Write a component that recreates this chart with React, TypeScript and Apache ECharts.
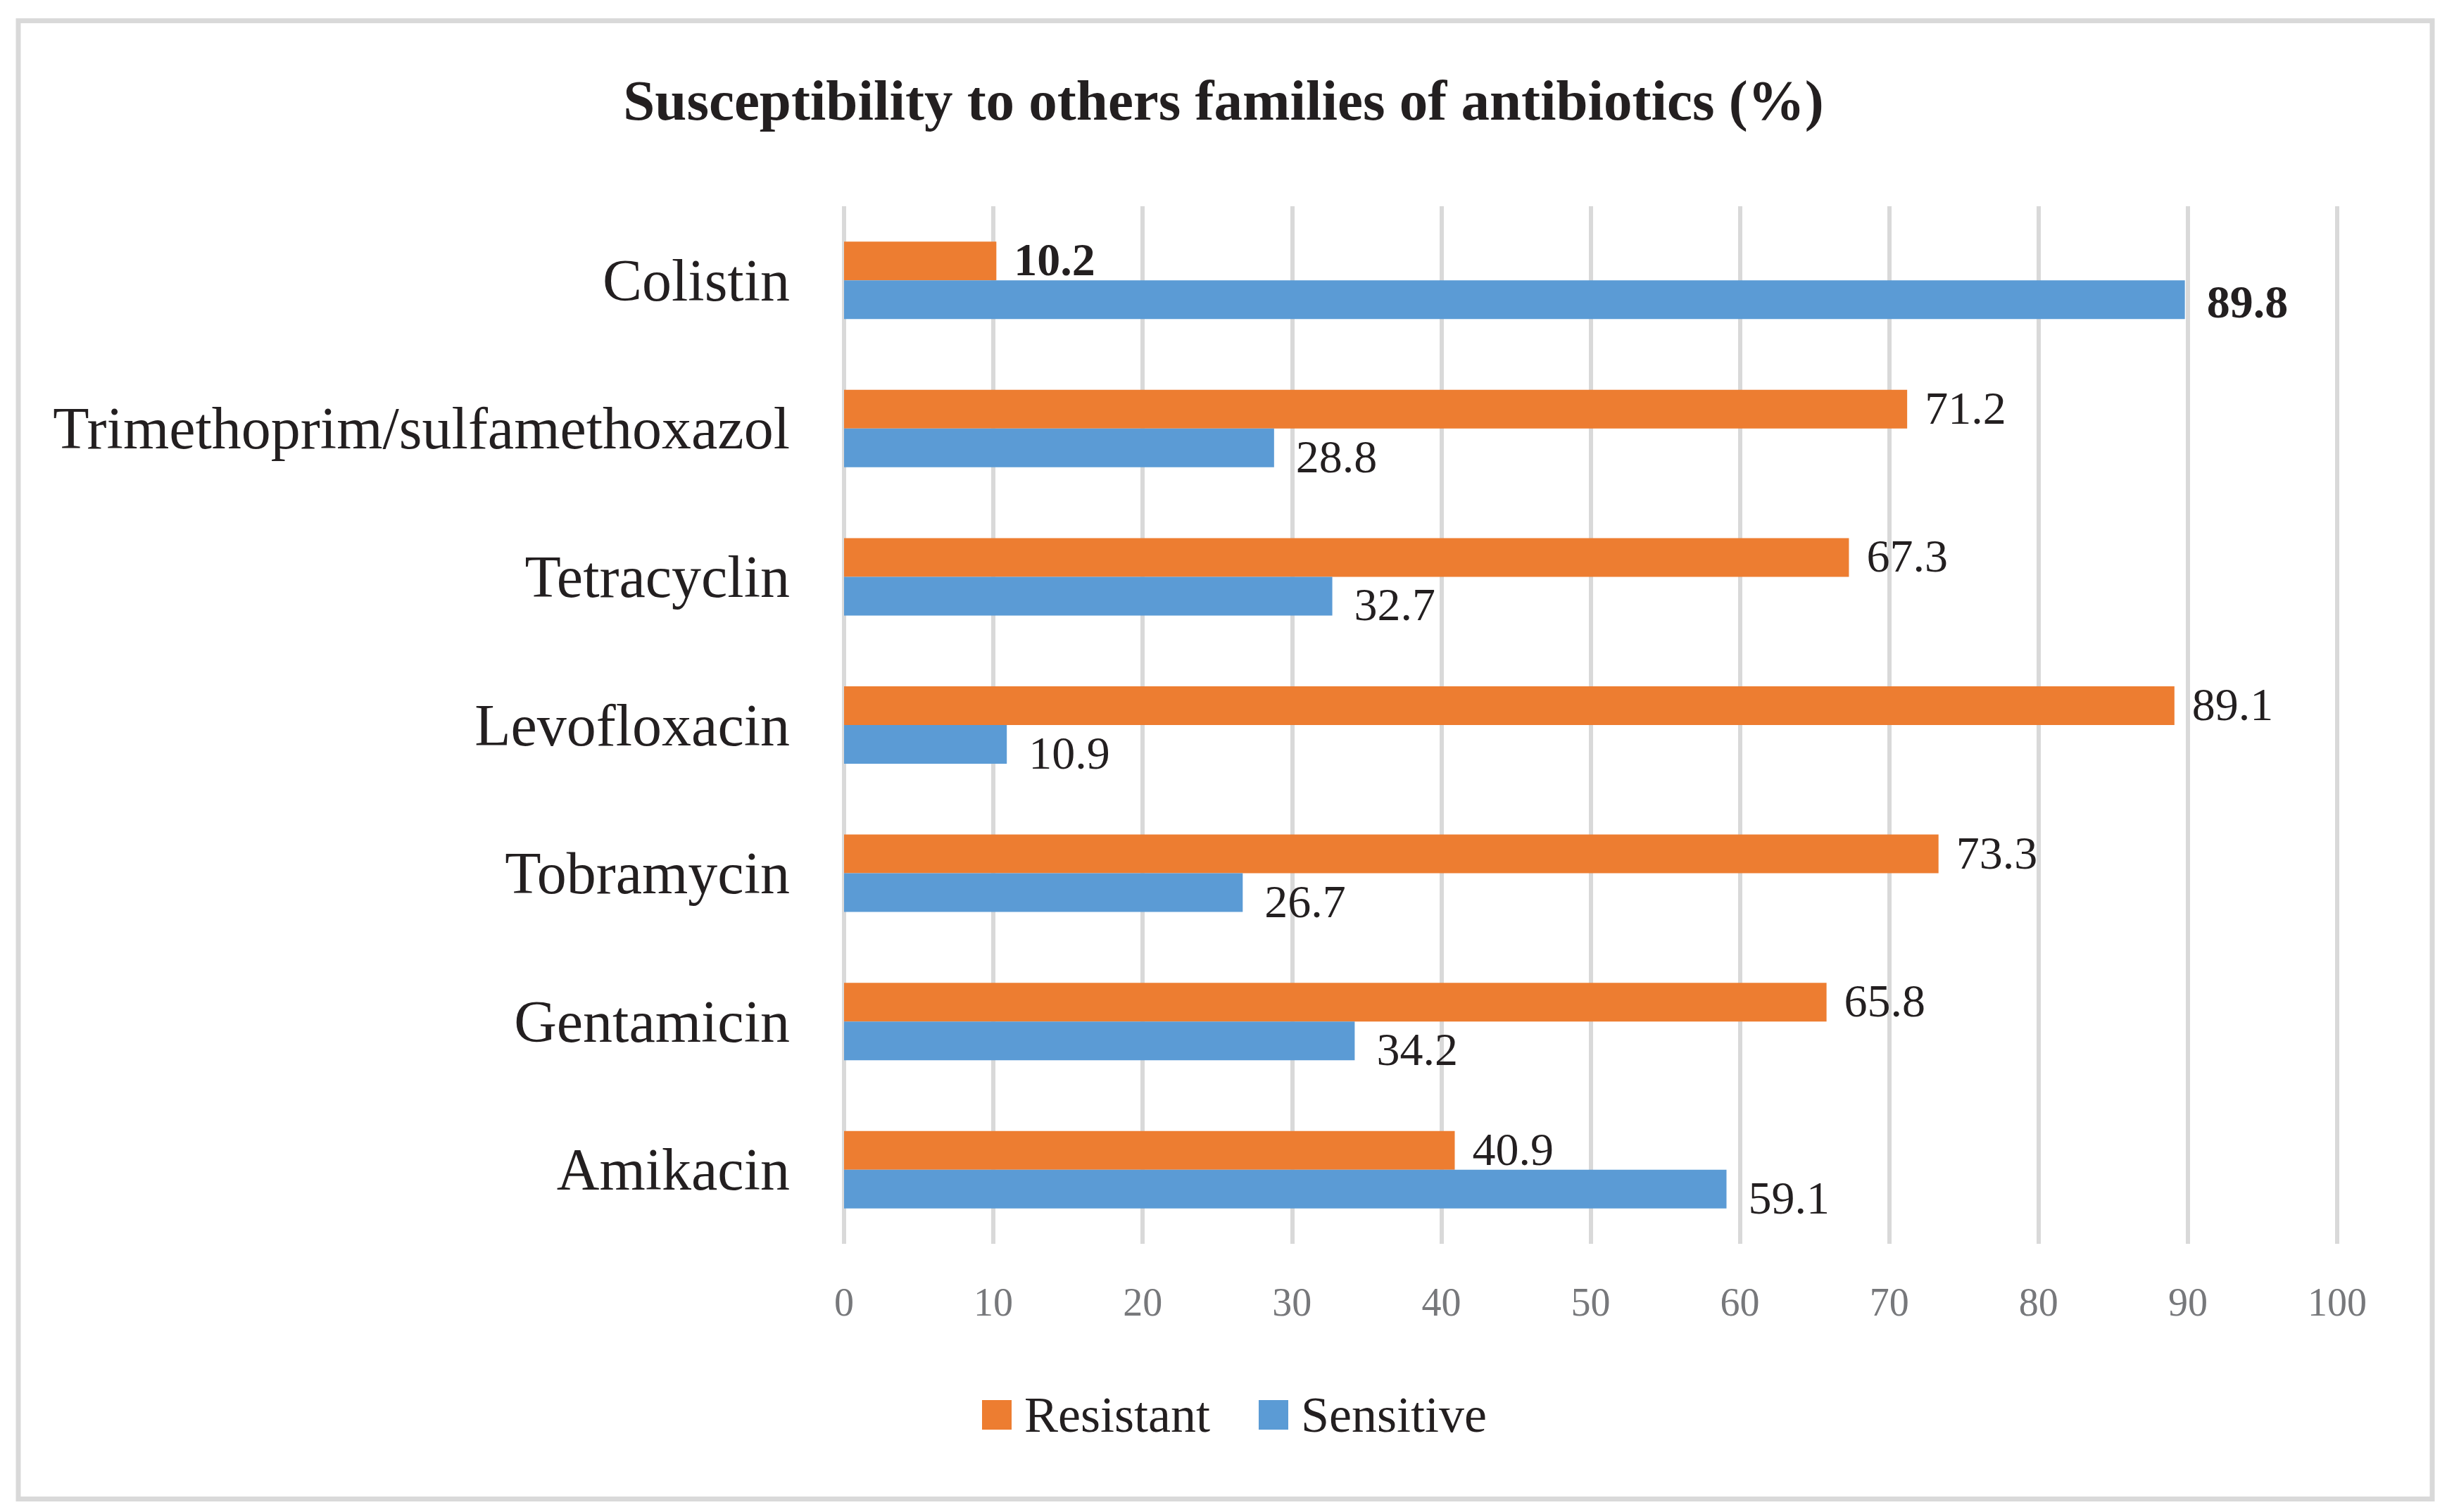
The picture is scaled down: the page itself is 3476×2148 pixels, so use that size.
import React, { useEffect, useRef } from "react";
import * as echarts from "echarts";

const titleText = "Susceptibility to others families of antibiotics (%)";
const categories = [
  "Amikacin",
  "Gentamicin",
  "Tobramycin",
  "Levofloxacin",
  "Tetracyclin",
  "Trimethoprim/sulfamethoxazol",
  "Colistin",
];
const resistant = [40.9, 65.8, 73.3, 89.1, 67.3, 71.2, 10.2];
const sensitive = [59.1, 34.2, 26.7, 10.9, 32.7, 28.8, 89.8];
const boldCategory = "Colistin";
const xMin = 0;
const xMax = 100;
const xInterval = 10;

const FONT = "'Liberation Serif', 'Times New Roman', serif";
const TEXT = "#231f20";

export default function App() {
  const ref = useRef<HTMLDivElement>(null);
  useEffect(() => {
    if (!ref.current) return;
    const chart = echarts.init(ref.current, null, { renderer: "svg" });
    const mk = (vals: number[], isSens: boolean) =>
      vals.map((v, i) => {
        const bold = categories[i] === boldCategory;
        return {
          value: v,
          label: {
            fontWeight: bold ? "bold" : "normal",
            offset: isSens ? (bold ? [6, 3] : [6, 12]) : [0, -2],
          },
        };
      });
    chart.setOption({
      animation: false,
      backgroundColor: "#ffffff",
      title: {
        text: titleText,
        left: "center",
        top: 97,
        textStyle: { fontFamily: FONT, fontWeight: "bold", fontSize: 81, color: TEXT },
      },
      graphic: [
        {
          type: "rect",
          silent: true,
          shape: { x: 26, y: 29.5, width: 3429, height: 2100 },
          style: { fill: "none", stroke: "#d9d9d9", lineWidth: 7 },
        },
      ],
      legend: {
        data: ["Resistant", "Sensitive"],
        left: 1395,
        top: 1974,
        padding: 0,
        icon: "rect",
        itemWidth: 42,
        itemHeight: 42,
        itemGap: 69,
        textStyle: { fontFamily: FONT, fontSize: 72, color: TEXT, lineHeight: 42, padding: [0, 0, 0, 13] },
      },
      grid: { left: 1199, right: 156, top: 293, bottom: 381, containLabel: false },
      xAxis: {
        type: "value",
        min: xMin,
        max: xMax,
        interval: xInterval,
        axisLine: { show: false },
        axisTick: { show: false },
        splitLine: { show: true, lineStyle: { color: "#d9d9d9", width: 6 } },
        axisLabel: { fontFamily: FONT, fontSize: 56, color: "#77787b", margin: 55 },
      },
      yAxis: {
        type: "category",
        data: categories,
        axisLine: { show: false },
        axisTick: { show: false },
        splitLine: { show: false },
        axisLabel: { fontFamily: FONT, fontSize: 84, color: TEXT, margin: 77 },
      },
      series: [
        {
          name: "Resistant",
          type: "bar",
          data: mk(resistant, false),
          barWidth: 55,
          barGap: "0%",
          itemStyle: { color: "#ED7D31" },
          label: { show: true, position: "right", distance: 25, fontFamily: FONT, fontSize: 66, color: TEXT },
        },
        {
          name: "Sensitive",
          type: "bar",
          data: mk(sensitive, true),
          barWidth: 55,
          barGap: "0%",
          itemStyle: { color: "#5B9BD5" },
          label: { show: true, position: "right", distance: 25, fontFamily: FONT, fontSize: 66, color: TEXT },
        },
      ],
    });
    return () => chart.dispose();
  }, []);
  return (
    <div
      ref={ref}
      style={{ position: "absolute", left: 0, top: 0, width: 3476, height: 2148 }}
    />
  );
}
